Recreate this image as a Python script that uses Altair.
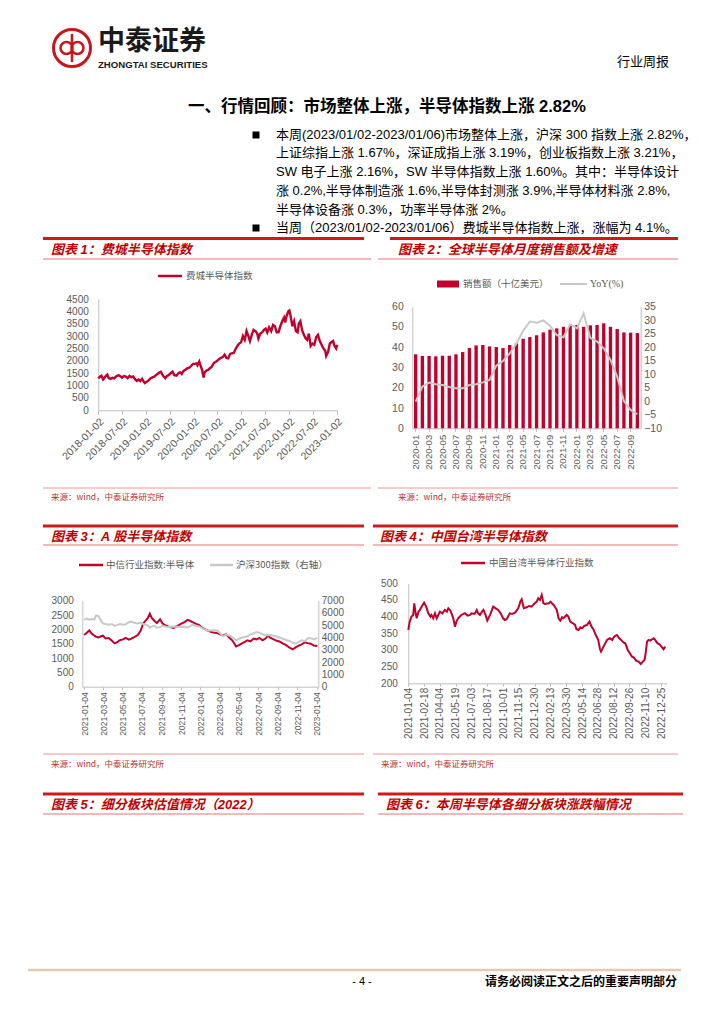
import altair as alt
import pandas as pd

# ---------------- page geometry helpers ----------------
W, H = 700, 990
def px(v):
    return v - 8
def py(v):
    return v - 8

RED = "#C2002C"
HEAD_RED = "#CC1B1B"
PINK = "#F3B8B8"
GRAY_LINE = "#C8C8C8"
AXC = "#BFBFBF"
LAB = "#595959"
SRC = "#B8322E"
CJK = "'Noto Sans CJK SC', sans-serif"
MIX = "'Liberation Sans', 'Noto Sans CJK SC', sans-serif"
NUM = "Liberation Sans"

# ---------------- data ----------------
# Figure 1: Philadelphia Semiconductor Index
sox_dates = ["2018-01-02", "2018-01-16", "2018-01-26", "2018-02-08", "2018-02-26", "2018-03-12", "2018-03-23",
             "2018-04-06", "2018-04-20", "2018-05-04", "2018-05-18", "2018-06-06", "2018-06-20", "2018-07-02",
             "2018-07-17", "2018-08-01", "2018-08-15", "2018-08-29", "2018-09-12", "2018-09-26", "2018-10-10",
             "2018-10-24", "2018-11-07", "2018-11-20", "2018-12-03", "2018-12-14", "2018-12-24", "2019-01-08",
             "2019-01-22", "2019-02-05", "2019-02-20", "2019-03-06", "2019-03-20", "2019-04-03", "2019-04-17",
             "2019-04-26", "2019-05-13", "2019-05-29", "2019-06-12", "2019-06-26", "2019-07-10", "2019-07-24",
             "2019-08-07", "2019-08-23", "2019-09-06", "2019-09-20", "2019-10-03", "2019-10-17", "2019-10-31",
             "2019-11-14", "2019-11-29", "2019-12-13", "2019-12-27", "2020-01-10", "2020-01-24", "2020-01-31",
             "2020-02-14", "2020-02-24", "2020-03-06", "2020-03-18", "2020-03-26", "2020-04-08", "2020-04-22",
             "2020-05-06", "2020-05-20", "2020-06-03", "2020-06-17", "2020-07-01", "2020-07-15", "2020-07-29",
             "2020-08-12", "2020-08-26", "2020-09-09", "2020-09-23", "2020-10-07", "2020-10-21", "2020-11-04",
             "2020-11-18", "2020-12-02", "2020-12-16", "2020-12-30", "2021-01-13", "2021-01-27", "2021-02-10",
             "2021-02-24", "2021-03-08", "2021-03-22", "2021-04-05", "2021-04-19", "2021-05-03", "2021-05-12",
             "2021-05-26", "2021-06-09", "2021-06-23", "2021-07-07", "2021-07-19", "2021-08-02", "2021-08-18",
             "2021-09-01", "2021-09-15", "2021-09-29", "2021-10-13", "2021-10-27", "2021-11-10", "2021-11-24",
             "2021-12-03", "2021-12-13", "2021-12-27", "2022-01-04", "2022-01-12", "2022-01-27", "2022-02-09",
             "2022-02-23", "2022-03-08", "2022-03-17", "2022-03-29", "2022-04-11", "2022-04-25", "2022-05-09",
             "2022-05-20", "2022-06-02", "2022-06-16", "2022-06-30", "2022-07-14", "2022-07-28", "2022-08-11",
             "2022-08-25", "2022-09-08", "2022-09-22", "2022-10-06", "2022-10-13", "2022-10-27", "2022-11-10",
             "2022-11-22", "2022-12-05", "2022-12-16", "2022-12-28", "2023-01-06"]
sox_values = [1290, 1370, 1400, 1250, 1370, 1440, 1300,
              1270, 1310, 1290, 1370, 1420, 1380, 1320,
              1380, 1360, 1300, 1390, 1340, 1370, 1260,
              1190, 1240, 1180, 1270, 1170, 1100, 1150,
              1210, 1290, 1330, 1360, 1420, 1480, 1540,
              1560, 1390, 1300, 1390, 1430, 1500, 1560,
              1420, 1400, 1490, 1540, 1470, 1590, 1640,
              1700, 1720, 1790, 1870, 1880, 1900, 1820,
              1970, 1800, 1650, 1330, 1530, 1600, 1630,
              1700, 1760, 1900, 1950, 2000, 2080, 2120,
              2150, 2250, 2120, 2100, 2280, 2300, 2320,
              2480, 2600, 2700, 2750, 3000, 2850, 3200,
              3000, 2800, 3050, 3250, 3200, 3100, 2900,
              3100, 3150, 3250, 3300, 3150, 3350, 3200,
              3450, 3400, 3150, 3150, 3400, 3600, 3750,
              3550, 3800, 4000, 4030, 3850, 3400, 3600,
              3200, 3150, 3500, 3600, 3250, 3050, 2900,
              2850, 3100, 2600, 2700, 2650, 2950, 3050,
              2800, 2650, 2500, 2400, 2200, 2350, 2700,
              2750, 2800, 2600, 2500, 2650]
sox_ticks = ["2018-01-02", "2018-07-02", "2019-01-02", "2019-07-02", "2020-01-02", "2020-07-02",
             "2021-01-02", "2021-07-02", "2022-01-02", "2022-07-02", "2023-01-02"]

# Figure 2: global semiconductor monthly sales (bn USD) and YoY (%)
months = ["2020-01", "2020-02", "2020-03", "2020-04", "2020-05", "2020-06", "2020-07", "2020-08", "2020-09",
          "2020-10", "2020-11", "2020-12", "2021-01", "2021-02", "2021-03", "2021-04", "2021-05", "2021-06",
          "2021-07", "2021-08", "2021-09", "2021-10", "2021-11", "2021-12", "2022-01", "2022-02", "2022-03",
          "2022-04", "2022-05", "2022-06", "2022-07", "2022-08", "2022-09", "2022-10"]
sales = [36.5, 35.7, 35.7, 35.5, 35.8, 35.8, 36.5, 37.6, 39.6, 40.9, 41.1, 40.4, 40.1, 39.6, 41.1, 41.9, 44.2,
         45.0, 45.9, 47.3, 48.7, 49.3, 50.1, 50.6, 51.0, 50.1, 50.8, 51.0, 51.8, 50.1, 49.0, 47.3, 47.2, 47.0]
yoy = [-0.1, 5.4, 6.9, 6.3, 6.0, 5.3, 4.8, 4.8, 6.0, 6.3, 7.0, 7.9, 13.2, 14.9, 17.7, 21.4, 26.1, 29.5, 29.1,
       29.9, 28.0, 24.5, 23.7, 28.5, 27.0, 32.5, 23.5, 22.1, 19.6, 15.3, 9.1, 0.1, -3.2, -4.8]

# Figure 3: A-share semiconductor (CITIC) and CSI 300 (right axis)
a_dates = ["2021-01-04", "2021-01-12", "2021-01-20", "2021-01-28", "2021-02-05", "2021-02-10", "2021-02-18",
           "2021-02-26", "2021-03-04", "2021-03-12", "2021-03-22", "2021-04-01", "2021-04-09", "2021-04-16",
           "2021-04-26", "2021-05-06", "2021-05-14", "2021-05-24", "2021-06-01", "2021-06-10", "2021-06-21",
           "2021-06-30", "2021-07-08", "2021-07-15", "2021-07-23", "2021-07-29", "2021-08-04", "2021-08-12",
           "2021-08-20", "2021-08-30", "2021-09-07", "2021-09-15", "2021-09-24", "2021-10-11", "2021-10-20",
           "2021-10-28", "2021-11-05", "2021-11-15", "2021-11-24", "2021-12-02", "2021-12-10", "2021-12-20",
           "2021-12-31", "2022-01-10", "2022-01-20", "2022-01-28", "2022-02-10", "2022-02-18", "2022-02-28",
           "2022-03-08", "2022-03-16", "2022-03-25", "2022-04-06", "2022-04-15", "2022-04-26", "2022-05-05",
           "2022-05-13", "2022-05-23", "2022-06-01", "2022-06-10", "2022-06-20", "2022-06-30", "2022-07-08",
           "2022-07-18", "2022-07-27", "2022-08-04", "2022-08-12", "2022-08-22", "2022-08-31", "2022-09-09",
           "2022-09-20", "2022-09-30", "2022-10-12", "2022-10-21", "2022-10-31", "2022-11-09", "2022-11-18",
           "2022-11-28", "2022-12-07", "2022-12-16", "2022-12-26", "2023-01-06"]
a_semi = [1800, 1880, 1960, 1850, 1780, 1740, 1720,
          1760, 1780, 1680, 1700, 1600, 1520, 1540,
          1620, 1650, 1700, 1640, 1680, 1730, 1800,
          1950, 2200, 2300, 2400, 2550, 2400, 2300,
          2220, 2350, 2200, 2150, 2100, 2050, 2100,
          2150, 2200, 2250, 2330, 2300, 2250, 2200,
          2150, 2050, 2000, 1950, 1900, 1880, 1860,
          1820, 1780, 1830, 1700, 1600, 1400, 1450,
          1500, 1560, 1620, 1580, 1680, 1650, 1700,
          1620, 1680, 1780, 1700, 1650, 1600, 1580,
          1500, 1450, 1350, 1300, 1380, 1430, 1480,
          1550, 1520, 1500, 1440, 1420]
hs300 = [5450, 5550, 5450, 5500, 5480, 5800, 5750,
         5350, 5150, 5100, 5050, 5100, 4950, 5000,
         5100, 5050, 5080, 5250, 5300, 5200, 5150,
         5220, 5100, 5050, 5000, 4800, 4900, 4950,
         4800, 4850, 4950, 4900, 4850, 4900, 4880,
         4870, 4850, 4880, 4800, 4900, 5050, 4920,
         4900, 4750, 4650, 4550, 4600, 4580, 4550,
         4300, 4100, 4250, 4150, 4000, 3790, 3900,
         3980, 4050, 4100, 4250, 4350, 4450, 4400,
         4250, 4200, 4180, 4200, 4150, 4080, 4000,
         3900, 3800, 3700, 3550, 3520, 3650, 3770,
         3700, 3950, 3950, 3850, 3980]
a_ticks = ["2021-01-04", "2021-03-04", "2021-05-04", "2021-07-04", "2021-09-04", "2021-11-04", "2022-01-04",
           "2022-03-04", "2022-05-04", "2022-07-04", "2022-09-04", "2022-11-04", "2023-01-04"]

# Figure 4: Taiwan semiconductor index
tw_dates = ["2021-01-04", "2021-01-08", "2021-01-13", "2021-01-18", "2021-01-21", "2021-01-25", "2021-01-28",
            "2021-02-02", "2021-02-06", "2021-02-12", "2021-02-18", "2021-02-24", "2021-03-02", "2021-03-08",
            "2021-03-11", "2021-03-16", "2021-03-21", "2021-03-26", "2021-04-04", "2021-04-11", "2021-04-18",
            "2021-04-24", "2021-04-28", "2021-05-03", "2021-05-07", "2021-05-12", "2021-05-17", "2021-05-21",
            "2021-05-26", "2021-06-04", "2021-06-14", "2021-06-22", "2021-06-29", "2021-07-03", "2021-07-12",
            "2021-07-18", "2021-07-22", "2021-07-27", "2021-08-02", "2021-08-06", "2021-08-12", "2021-08-17",
            "2021-08-25", "2021-09-03", "2021-09-10", "2021-09-17", "2021-09-24", "2021-10-01", "2021-10-06",
            "2021-10-11", "2021-10-20", "2021-10-27", "2021-11-04", "2021-11-10", "2021-11-15", "2021-11-19",
            "2021-11-23", "2021-11-29", "2021-12-07", "2021-12-14", "2021-12-21", "2021-12-30", "2022-01-05",
            "2022-01-09", "2022-01-14", "2022-01-19", "2022-01-24", "2022-01-28", "2022-02-08", "2022-02-13",
            "2022-02-17", "2022-02-22", "2022-02-28", "2022-03-03", "2022-03-08", "2022-03-13", "2022-03-18",
            "2022-03-22", "2022-03-31", "2022-04-05", "2022-04-10", "2022-04-18", "2022-04-24", "2022-04-28",
            "2022-05-04", "2022-05-09", "2022-05-14", "2022-05-20", "2022-05-28", "2022-06-04", "2022-06-09",
            "2022-06-16", "2022-06-22", "2022-06-29", "2022-07-04", "2022-07-07", "2022-07-14", "2022-07-20",
            "2022-07-24", "2022-08-01", "2022-08-08", "2022-08-13", "2022-08-21", "2022-08-28", "2022-09-04",
            "2022-09-10", "2022-09-14", "2022-09-21", "2022-09-27", "2022-10-03", "2022-10-08", "2022-10-15",
            "2022-10-22", "2022-10-28", "2022-11-03", "2022-11-08", "2022-11-11", "2022-11-15", "2022-11-19",
            "2022-11-24", "2022-11-29", "2022-12-04", "2022-12-08", "2022-12-15", "2022-12-20", "2022-12-26",
            "2023-01-01", "2023-01-06"]
tw_values = [360, 385, 400, 405, 440, 410, 395,
             415, 420, 432, 442, 430, 410, 400,
             405, 395, 410, 395, 415, 410, 420,
             415, 425, 420, 410, 395, 370, 385,
             395, 405, 410, 403, 405, 410, 408,
             420, 410, 405, 415, 420, 405, 388,
             405, 430, 425, 420, 410, 395, 390,
             392, 410, 408, 412, 420, 430, 445,
             452, 425, 428, 432, 430, 440, 445,
             455, 450, 465, 440, 438, 440, 445,
             440, 435, 425, 420, 395, 388, 398,
             395, 405, 400, 385, 380, 375, 362,
             360, 368, 365, 372, 375, 385, 372,
             360, 345, 330, 302, 295, 310, 322,
             330, 335, 330, 340, 345, 335, 328,
             322, 320, 300, 290, 280, 278, 268,
             265, 258, 265, 270, 290, 325, 330,
             328, 332, 335, 330, 320, 318, 310,
             302, 310]
tw_ticks = ["2021-01-04", "2021-02-18", "2021-04-04", "2021-05-19", "2021-07-03", "2021-08-17", "2021-10-01",
            "2021-11-15", "2021-12-30", "2022-02-13", "2022-03-30", "2022-05-14", "2022-06-28", "2022-08-12",
            "2022-09-26", "2022-11-10", "2022-12-25"]

# text content
heading = "一、行情回顾：市场整体上涨，半导体指数上涨 2.82%"
bullet_lines = [
    "本周(2023/01/02-2023/01/06)市场整体上涨，沪深 300 指数上涨 2.82%，",
    "上证综指上涨 1.67%，深证成指上涨 3.19%，创业板指数上涨 3.21%，",
    "SW 电子上涨 2.16%，SW 半导体指数上涨 1.60%。其中：半导体设计",
    "涨 0.2%,半导体制造涨 1.6%,半导体封测涨 3.9%,半导体材料涨 2.8%,",
    "半导体设备涨 0.3%，功率半导体涨 2%。",
    "当周（2023/01/02-2023/01/06）费城半导体指数上涨，涨幅为 4.1%。",
]
source_text = "来源：wind，中泰证券研究所"


# ---------------- helpers ----------------
ONE = alt.Data(values=[{"k": 0}])

def D(s):
    y, m, d = (int(t) for t in s.split("-"))
    return alt.DateTime(year=y, month=m, date=d, utc=True)

def text(s, x, y, size=12, color="#000000", font=MIX, weight="normal", style=None, align="left"):
    kw = dict(text=s, fontSize=size, color=color, font=font, fontWeight=weight, align=align, baseline="middle")
    if style:
        kw["fontStyle"] = style
    return alt.Chart(ONE).mark_text(**kw).encode(x=alt.value(px(x)), y=alt.value(py(y)))

def hline(x1, x2, y, color, width):
    return alt.Chart(ONE).mark_rule(color=color, strokeWidth=width).encode(
        x=alt.value(px(x1)), x2=alt.value(px(x2)), y=alt.value(py(y)))

def vline(x, y1, y2, color, width):
    return alt.Chart(ONE).mark_rule(color=color, strokeWidth=width).encode(
        x=alt.value(px(x)), y=alt.value(py(y1)), y2=alt.value(py(y2)))

def box(x1, x2, y1, y2, color):
    return alt.Chart(ONE).mark_rect(color=color).encode(
        x=alt.value(px(x1)), x2=alt.value(px(x2)), y=alt.value(py(y1)), y2=alt.value(py(y2)))

def ring(x, y, d, width, color):
    return alt.Chart(ONE).mark_point(shape="circle", filled=False, size=d * d, strokeWidth=width,
                                     color=color, opacity=1).encode(x=alt.value(px(x)), y=alt.value(py(y)))

def square(x, y, s):
    return alt.Chart(ONE).mark_square(size=s * s, color="#000000", opacity=1).encode(
        x=alt.value(px(x)), y=alt.value(py(y)))

def axis(orient, offset, values=None, fmt=None, angle=0, size=10, pad=3, tick=0, align=None, baseline=None):
    kw = dict(orient=orient, offset=offset, title=None, grid=False, labelFont=NUM, labelFontSize=size,
              labelColor=LAB, domainColor=AXC, domainWidth=1, tickColor=AXC, labelPadding=pad,
              labelAngle=angle, labelOverlap=False, labelFlush=False)
    if tick:
        kw["ticks"] = True
        kw["tickSize"] = tick
    else:
        kw["ticks"] = False
    if values is not None:
        kw["values"] = values
    if fmt:
        kw["format"] = fmt
    if align:
        kw["labelAlign"] = align
    if baseline:
        kw["labelBaseline"] = baseline
    return alt.Axis(**kw)

def left_off(xp):
    return -px(xp)

def right_off(xp):
    return -(W - px(xp))

def bottom_off(yp):
    return -(H - py(yp))


layers = []

# ---------------- page header ----------------
LOGO = "#C8161D"
layers += [
    ring(72, 48, 37, 3, LOGO),
    ring(66.5, 48, 12, 2.5, LOGO),
    ring(77.5, 48, 12, 2.5, LOGO),
    vline(72, 34, 62, LOGO, 2.5),
    text("中泰证券", 98, 42, size=27, font=CJK, weight="bold", color="#1A1A1A"),
    text("ZHONGTAI SECURITIES", 98, 64.5, size=9.6, font=NUM, weight="bold", color="#1A1A1A"),
    text("行业周报", 669, 62, size=13, font=CJK, align="right"),
    text(heading, 188, 107, size=16.5, weight="bold"),
]
bullet_y = [135, 153, 172, 191, 210, 228]
for s, yy in zip(bullet_lines, bullet_y):
    layers.append(text(s, 276, yy, size=13))
layers.append(square(256, bullet_y[0], 7))
layers.append(square(256, bullet_y[5], 7))

# ---------------- figure headers ----------------
def header(x1, x2, xp1, xp2, yred, ypink, title, tx, ty):
    return [hline(x1, x2, yred, HEAD_RED, 3), hline(xp1, xp2, ypink, PINK, 2),
            text(title, tx, ty, size=13, color="#C00000", weight="bold", style="italic")]

layers += header(43, 364, 43, 371, 238.5, 259, "图表 1：费城半导体指数", 51, 250)
layers += header(390, 678, 378, 678, 238.5, 259, "图表 2：全球半导体月度销售额及增速", 398, 250)
layers += header(43, 364, 43, 364, 526, 545, "图表 3：A 股半导体指数", 51, 537)
layers += header(373, 678, 373, 678, 526, 545, "图表 4：中国台湾半导体指数", 380, 537)
layers += header(43, 364, 43, 364, 794, 814, "图表 5：细分板块估值情况（2022）", 51, 805)
layers += header(378, 683, 378, 683, 794, 814, "图表 6：本周半导体各细分板块涨跌幅情况", 386, 805)

# sources
layers += [
    hline(43, 371, 488, PINK, 1.5), text(source_text, 51, 497, size=8.5, color=SRC, font=CJK),
    hline(378, 678, 488, PINK, 1.5), text(source_text, 398, 497, size=8.5, color=SRC, font=CJK),
    hline(43, 364, 754, PINK, 1.5), text(source_text, 51, 764, size=8.5, color=SRC, font=CJK),
    hline(373, 678, 754, PINK, 1.5), text(source_text, 381, 764, size=8.5, color=SRC, font=CJK),
]

# footer
layers += [
    hline(28, 681, 970, "#E8C8B0", 2.5),
    text("- 4 -", 362, 982, size=11, font=NUM, align="center"),
    text("请务必阅读正文之后的重要声明部分", 677, 982, size=12, font=CJK, align="right", weight="bold"),
]

# ---------------- legends ----------------
LEG = 9.5
layers += [
    hline(158, 182, 276, RED, 2.5), text("费城半导体指数", 186, 276, size=LEG, color=LAB, font=CJK),
    box(437, 459, 280.5, 287.5, RED), text("销售额（十亿美元）", 463, 284, size=LEG, color=LAB, font=CJK),
    hline(560, 587, 284, GRAY_LINE, 2), text("YoY(%)", 590, 284, size=LEG + 0.5, color=LAB,
                                              font="'Liberation Serif', serif"),
    hline(79, 103, 565, RED, 2.5), text("中信行业指数:半导体", 106, 565, size=LEG, color=LAB, font=CJK),
    hline(210, 233, 565, GRAY_LINE, 2.5), text("沪深300指数（右轴）", 236, 565, size=LEG, color=LAB, font=CJK),
    hline(461, 485, 563, RED, 2.5), text("中国台湾半导体行业指数", 489, 563, size=LEG, color=LAB, font=CJK),
]

# ---------------- Figure 1 ----------------
C1X = (98.3, 337.3)
C1Y = (410.3, 299.0)
df1 = pd.DataFrame({"date": sox_dates, "value": sox_values})
fig1 = alt.Chart(df1).mark_line(color=RED, strokeWidth=2.4).encode(
    x=alt.X("date:T",
            scale=alt.Scale(type="utc", domain=[D("2018-01-02"), D("2023-01-06")], range=[px(C1X[0]), px(C1X[1])]),
            axis=axis("bottom", bottom_off(C1Y[0]), values=[D(t) for t in sox_ticks], fmt="%Y-%m-%d",
                      angle=315, size=10.5, pad=2, tick=4, align="right", baseline="top")),
    y=alt.Y("value:Q",
            scale=alt.Scale(domain=[0, 4500], range=[py(C1Y[0]), py(C1Y[1])], nice=False, zero=False),
            axis=axis("left", left_off(C1X[0]), values=list(range(0, 4501, 500)), fmt="d", size=10, pad=10)),
)
layers.append(fig1)

# ---------------- Figure 2 ----------------
C2X = (412.3, 640.7)
C2Y = (428.3, 306.7)
df2 = pd.DataFrame({"month": months, "sales": sales, "yoy": yoy})
fig2_bar = alt.Chart(df2).mark_bar(color=RED).encode(
    x=alt.X("month:O",
            scale=alt.Scale(type="band", domain=months, range=[px(C2X[0]), px(C2X[1])],
                            paddingInner=0.5, paddingOuter=0.25),
            axis=axis("bottom", bottom_off(C2Y[0]), values=months[::2], angle=270, size=9.5, pad=3, tick=3,
                      align="right", baseline="middle")),
    y=alt.Y("sales:Q",
            scale=alt.Scale(domain=[0, 60], range=[py(C2Y[0]), py(C2Y[1])], nice=False),
            axis=axis("left", left_off(C2X[0]), values=list(range(0, 61, 10)), fmt="d", size=10.5, pad=9)),
)
fig2_line = alt.Chart(df2).mark_line(color=GRAY_LINE, strokeWidth=2).encode(
    x=alt.X("month:O",
            scale=alt.Scale(type="point", domain=months, range=[px(C2X[0]), px(C2X[1])], padding=0.5),
            axis=None),
    y=alt.Y("yoy:Q",
            scale=alt.Scale(domain=[-10, 35], range=[py(C2Y[0]), py(C2Y[1])], nice=False, zero=False),
            axis=axis("right", right_off(C2X[1]), values=list(range(-10, 36, 5)), fmt="d", size=10.5, pad=3)),
)
layers += [fig2_bar, fig2_line]

# ---------------- Figure 3 ----------------
C3X = (82.3, 318.3)
C3Y = (686.7, 600.7)
df3 = pd.DataFrame({"date": a_dates, "semi": a_semi, "hs300": hs300})
x3 = alt.Scale(type="utc", domain=[D("2020-12-29"), D("2023-01-09")], range=[px(C3X[0]), px(C3X[1])])
fig3_red = alt.Chart(df3).mark_line(color=RED, strokeWidth=2).encode(
    x=alt.X("date:T", scale=x3,
            axis=axis("bottom", bottom_off(C3Y[0]), values=[D(t) for t in a_ticks], fmt="%Y-%m-%d",
                      angle=270, size=8.5, pad=2, tick=3, align="right", baseline="middle")),
    y=alt.Y("semi:Q",
            scale=alt.Scale(domain=[0, 3000], range=[py(C3Y[0]), py(C3Y[1])], nice=False),
            axis=axis("left", left_off(C3X[0]), values=list(range(0, 3001, 500)), fmt="d", size=10, pad=9)),
)
fig3_gray = alt.Chart(df3).mark_line(color=GRAY_LINE, strokeWidth=2).encode(
    x=alt.X("date:T", scale=x3, axis=None),
    y=alt.Y("hs300:Q",
            scale=alt.Scale(domain=[0, 7000], range=[py(C3Y[0]), py(C3Y[1])], nice=False),
            axis=axis("right", right_off(C3X[1]), values=list(range(0, 7001, 1000)), fmt="d", size=10, pad=3)),
)
layers += [fig3_red, fig3_gray]

# ---------------- Figure 4 ----------------
C4X = (408.3, 666.7)
C4Y = (683.3, 583.3)
df4 = pd.DataFrame({"date": tw_dates, "value": tw_values})
fig4 = alt.Chart(df4).mark_line(color=RED, strokeWidth=2).encode(
    x=alt.X("date:T",
            scale=alt.Scale(type="utc", domain=[D("2021-01-04"), D("2023-01-10")], range=[px(C4X[0]), px(C4X[1])]),
            axis=axis("bottom", bottom_off(C4Y[0]), values=[D(t) for t in tw_ticks], fmt="%Y-%m-%d",
                      angle=270, size=10, pad=1, tick=3, align="right", baseline="middle")),
    y=alt.Y("value:Q",
            scale=alt.Scale(domain=[200, 500], range=[py(C4Y[0]), py(C4Y[1])], nice=False, zero=False),
            axis=axis("left", left_off(C4X[0]), values=list(range(200, 501, 50)), fmt="d", size=10, pad=11)),
)
layers.append(fig4)

chart = (
    alt.layer(*layers)
    .resolve_scale(x="independent", y="independent")
    .resolve_axis(x="independent", y="independent")
    .properties(width=W, height=H, padding=0, background="#FFFFFF")
    .configure_view(strokeWidth=0)
    .configure_axis(grid=False)
)

chart.save("out.html", embed_options={"renderer": "svg", "actions": False})
